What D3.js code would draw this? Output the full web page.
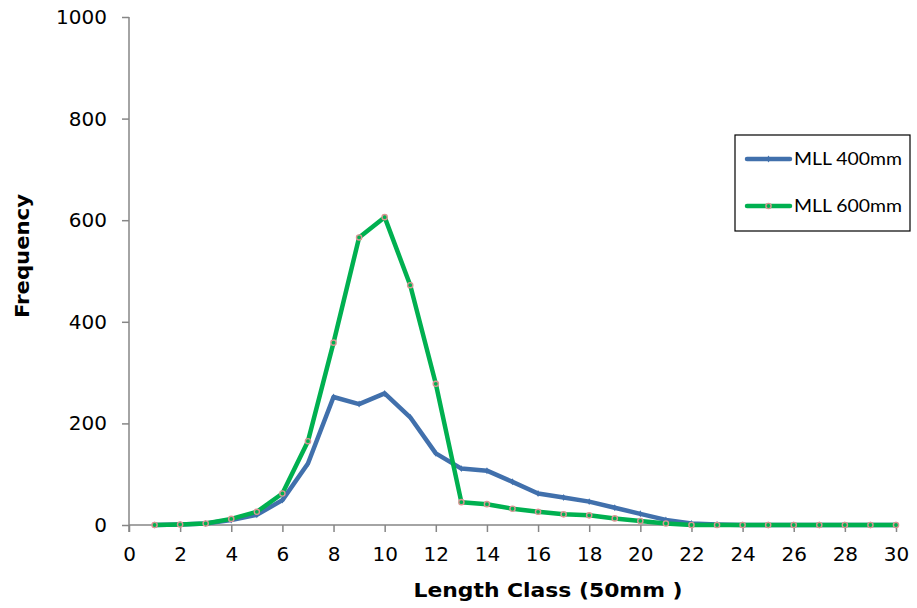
<!DOCTYPE html>
<html>
<head>
<meta charset="utf-8">
<script src="https://cdn.jsdelivr.net/npm/d3@7"></script>
<style>
  html, body { margin: 0; padding: 0; background: #fff; }
  svg { display: block; }
</style>
</head>
<body>
<svg id="chart" width="917" height="608"></svg>
<script>
// Length classes (50 mm bins)
const lengthClass = d3.range(1, 31);

// Catch frequency per length class for each minimum legal length
const mll400 = [0, 1, 3, 10, 20, 49, 121, 252, 238, 259, 212, 141, 111, 107, 85, 62, 54, 46, 34, 22, 10, 3, 1, 0, 0, 0, 0, 0, 0, 0];
const mll600 = [0, 1, 3, 12, 26, 62, 165, 359, 566, 606, 472, 278, 45, 41, 32, 26, 21, 19, 13, 8, 3, 0, 0, 0, 0, 0, 0, 0, 0, 0];

const seriesNames = ["MLL 400mm", "MLL 600mm"];
const seriesColors = ["#4170ac", "#00b050"];

const xTicks = d3.range(0, 31, 2);
const yTicks = [0, 200, 400, 600, 800, 1000];

const xTitle = "Length Class (50mm )";
const yTitle = "Frequency";

const svg = d3.select("#chart");

const x = d3.scaleLinear().domain([0, 30]).range([129, 896]);
const y = d3.scaleLinear().domain([0, 1000]).range([525, 17]);

const axisColor = "#868686";
const tickFont = "'DejaVu Sans', Verdana, sans-serif";

// Y axis
const yAxis = svg.append("g")
  .attr("transform", `translate(${x(0)},0)`)
  .call(d3.axisLeft(y).tickValues(yTicks).tickSize(7).tickPadding(15).tickFormat(d3.format("d")));
yAxis.select(".domain").attr("stroke", axisColor).attr("stroke-width", 1.5)
  .attr("d", `M0,${y(1000)}V${y(0) + 7}`);
yAxis.selectAll(".tick line").attr("stroke", axisColor).attr("stroke-width", 1.5);
yAxis.selectAll(".tick text").attr("font-family", tickFont).attr("font-size", 20).attr("fill", "#000");

// X axis
const xAxis = svg.append("g")
  .attr("transform", `translate(0,${y(0)})`)
  .call(d3.axisBottom(x).tickValues(xTicks).tickSize(7).tickPadding(15).tickFormat(d3.format("d")));
xAxis.select(".domain").attr("stroke", axisColor).attr("stroke-width", 1.5)
  .attr("d", `M${x(0)},0H${x(30)}`);
xAxis.selectAll(".tick line").attr("stroke", axisColor).attr("stroke-width", 1.5);
xAxis.selectAll(".tick text").attr("font-family", tickFont).attr("font-size", 20).attr("fill", "#000");

// Axis titles
svg.append("text")
  .attr("x", 548).attr("y", 597)
  .attr("text-anchor", "middle")
  .attr("font-family", tickFont).attr("font-weight", "bold").attr("font-size", 19)
  .attr("textLength", 269).attr("lengthAdjust", "spacingAndGlyphs")
  .text(xTitle);

svg.append("text")
  .attr("transform", `translate(29,256) rotate(-90)`)
  .attr("text-anchor", "middle")
  .attr("font-family", tickFont).attr("font-weight", "bold").attr("font-size", 19)
  .attr("textLength", 124).attr("lengthAdjust", "spacingAndGlyphs")
  .text(yTitle);

// Lines
const line = d3.line()
  .x((d, i) => x(lengthClass[i]))
  .y(d => y(d));

const plot = svg.append("g");

plot.append("path")
  .datum(mll400)
  .attr("fill", "none")
  .attr("stroke", seriesColors[0])
  .attr("stroke-width", 4.5)
  .attr("stroke-linejoin", "round")
  .attr("d", line);

plot.selectAll(".m400")
  .data(mll400)
  .join("path")
  .attr("class", "m400")
  .attr("transform", (d, i) => `translate(${x(lengthClass[i])},${y(d)})`)
  .attr("d", d3.symbol(d3.symbolDiamond, 14)())
  .attr("fill", seriesColors[0]);

plot.append("path")
  .datum(mll600)
  .attr("fill", "none")
  .attr("stroke", seriesColors[1])
  .attr("stroke-width", 4.5)
  .attr("stroke-linejoin", "round")
  .attr("d", line);

plot.selectAll(".m600")
  .data(mll600)
  .join("circle")
  .attr("class", "m600")
  .attr("cx", (d, i) => x(lengthClass[i]))
  .attr("cy", d => y(d))
  .attr("r", 2.6)
  .attr("fill", seriesColors[1])
  .attr("stroke", "#d99594")
  .attr("stroke-width", 1.4);

// Legend
const legend = svg.append("g");
legend.append("rect")
  .attr("x", 735).attr("y", 135).attr("width", 175).attr("height", 96)
  .attr("fill", "#fff").attr("stroke", "#000").attr("stroke-width", 1.2);

const legendRows = [159, 206];
seriesNames.forEach((name, i) => {
  const ly = legendRows[i];
  legend.append("line")
    .attr("x1", 747).attr("x2", 790).attr("y1", ly).attr("y2", ly)
    .attr("stroke", seriesColors[i]).attr("stroke-width", 4.5).attr("stroke-linecap", "round");
  if (i === 0) {
    legend.append("path")
      .attr("transform", `translate(768.5,${ly})`)
      .attr("d", d3.symbol(d3.symbolDiamond, 14)())
      .attr("fill", seriesColors[0]);
  } else {
    legend.append("circle")
      .attr("cx", 768.5).attr("cy", ly).attr("r", 2.6)
      .attr("fill", seriesColors[1]).attr("stroke", "#d99594").attr("stroke-width", 1.4);
  }
  legend.append("text")
    .attr("x", 794).attr("y", ly + 6)
    .attr("font-family", "Lato, 'Liberation Sans', sans-serif")
    .attr("font-size", 17)
    .attr("textLength", 108).attr("lengthAdjust", "spacingAndGlyphs")
    .attr("fill", "#000")
    .text(name);
});
</script>
</body>
</html>
